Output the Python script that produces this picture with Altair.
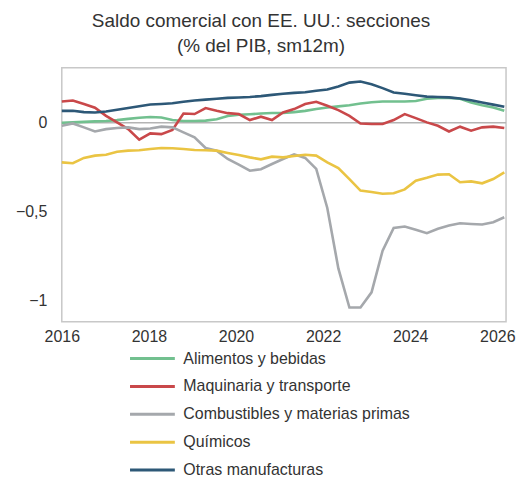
import altair as alt
import pandas as pd

# sample positions (decimal years, ~quarterly) at which values were read
years = [round(2016 + 0.254 * i, 3) for i in range(41)]

series_names = [
    "Alimentos y bebidas",
    "Maquinaria y transporte",
    "Combustibles y materias primas",
    "Químicos",
    "Otras manufacturas",
]
series_colors = ["#72c08f", "#c9484a", "#a5a8ac", "#eac443", "#2d5877"]

alimentos = [0.000, 0.002, 0.005, 0.008, 0.010, 0.015, 0.022, 0.028, 0.032, 0.030,
             0.015, 0.010, 0.010, 0.012, 0.020, 0.038, 0.045, 0.048, 0.052, 0.055,
             0.055, 0.060, 0.067, 0.077, 0.086, 0.092, 0.099, 0.108, 0.115, 0.120,
             0.120, 0.120, 0.122, 0.135, 0.140, 0.140, 0.135, 0.114, 0.099, 0.086,
             0.067]
maquinaria = [0.120, 0.125, 0.105, 0.085, 0.039, 0.002, -0.036, -0.095, -0.060, -0.064,
              -0.041, 0.052, 0.049, 0.083, 0.067, 0.054, 0.049, 0.015, 0.034, 0.015,
              0.058, 0.077, 0.105, 0.118, 0.096, 0.071, 0.039, -0.004, -0.007, -0.007,
              0.015, 0.049, 0.026, 0.002, -0.017, -0.049, -0.022, -0.045, -0.026, -0.022,
              -0.030]
combustibles = [-0.017, -0.004, -0.026, -0.049, -0.036, -0.030, -0.026, -0.036, -0.032, -0.022,
                -0.026, -0.054, -0.082, -0.142, -0.157, -0.204, -0.236, -0.270, -0.262, -0.232,
                -0.204, -0.178, -0.198, -0.260, -0.480, -0.820, -1.040, -1.040, -0.955, -0.720,
                -0.592, -0.584, -0.603, -0.622, -0.597, -0.579, -0.566, -0.570, -0.573, -0.560,
                -0.532]
quimicos = [-0.223, -0.228, -0.198, -0.185, -0.180, -0.163, -0.157, -0.155, -0.148, -0.142,
            -0.144, -0.148, -0.153, -0.155, -0.157, -0.170, -0.182, -0.195, -0.206, -0.191,
            -0.195, -0.187, -0.180, -0.185, -0.223, -0.255, -0.317, -0.382, -0.390, -0.400,
            -0.397, -0.375, -0.326, -0.310, -0.292, -0.290, -0.335, -0.330, -0.341, -0.317,
            -0.279]
otras = [0.067, 0.068, 0.060, 0.058, 0.063, 0.073, 0.083, 0.093, 0.103, 0.106,
         0.110, 0.118, 0.125, 0.130, 0.135, 0.140, 0.142, 0.145, 0.150, 0.157,
         0.163, 0.168, 0.172, 0.180, 0.187, 0.204, 0.226, 0.232, 0.217, 0.195,
         0.170, 0.163, 0.155, 0.147, 0.145, 0.143, 0.137, 0.127, 0.114, 0.102,
         0.090]

values = [alimentos, maquinaria, combustibles, quimicos, otras]
rows = []
for name, vals in zip(series_names, values):
    for yr, v in zip(years, vals):
        rows.append({"year": yr, "value": v, "serie": name})
df = pd.DataFrame(rows)

x_ticks = [2016, 2018, 2020, 2022, 2024, 2026]
y_ticks = [0, -0.5, -1]

font = "Liberation Sans"
txt = "#333333"

x = alt.X("year:Q", scale=alt.Scale(domain=[2016, 2026.2], nice=False, zero=False),
          axis=alt.Axis(values=x_ticks, format="d", title=None, grid=False, ticks=False,
                        domain=False, labelFontSize=16, labelColor=txt, labelPadding=7,
                        labelFont=font, labelFlush=False))
y = alt.Y("value:Q", scale=alt.Scale(domain=[-1.12, 0.31], nice=False, zero=False),
          axis=alt.Axis(values=y_ticks, title=None, grid=False, ticks=False, domain=False,
                        format="~g",
                        labelFontSize=16, labelColor=txt, labelPadding=15, labelFont=font,
                        labelExpr="replace(datum.label, '.', ',')"))

zero = alt.Chart(pd.DataFrame({"z": [0]})).mark_rule(color="#b4b4b4", strokeWidth=1.5).encode(
    y=alt.Y("z:Q", scale=alt.Scale(domain=[-1.12, 0.31], nice=False, zero=False))
)

lines = alt.Chart(df).mark_line(strokeWidth=2.6, interpolate="linear").encode(
    x=x,
    y=y,
    color=alt.Color("serie:N",
                    scale=alt.Scale(domain=series_names, range=series_colors),
                    sort=series_names,
                    legend=alt.Legend(title=None, orient="none", legendX=67, legendY=282,
                                      symbolType="stroke", symbolSize=2025,
                                      symbolStrokeWidth=3, labelFontSize=16,
                                      labelColor=txt, labelFont=font, labelOffset=7,
                                      labelLimit=400, clipHeight=20,
                                      rowPadding=8, direction="vertical")),
    order=alt.Order("serie:N"),
)

chart = alt.layer(zero, lines).properties(
    width=446,
    height=255,
    title=alt.TitleParams(text=["Saldo comercial con EE. UU.: secciones", "(% del PIB, sm12m)"],
                          fontSize=19, font=font, color=txt, fontWeight="normal",
                          anchor="middle", dx=-23, offset=12, lineHeight=25),
    padding={"left": 54, "top": 59, "right": 10, "bottom": 156},
    autosize=alt.AutoSizeParams(type="none"),
).configure_view(stroke="#c8c8c8", strokeWidth=1.5)

chart.save("out.html", embed_options={"renderer": "svg", "actions": False})
